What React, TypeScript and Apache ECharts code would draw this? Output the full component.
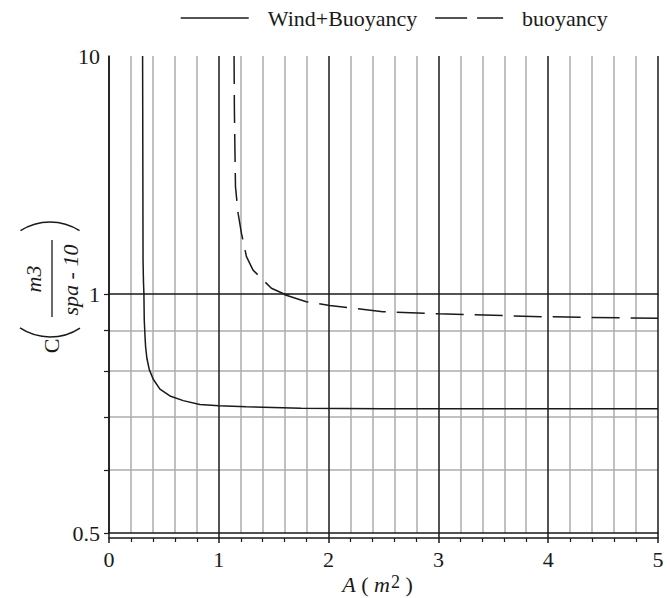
import React, { useEffect, useRef } from "react";
import * as echarts from "echarts";

// ---- data ----
const windA = [0.306, 0.308, 0.31, 0.314, 0.318, 0.321, 0.327, 0.333, 0.345, 0.367, 0.403, 0.464, 0.555, 0.676, 0.827, 1.0, 1.25, 1.75, 2.5, 3.5, 5];
const windC = [10, 4, 1.39, 1.12, 1.0, 0.928, 0.89, 0.859, 0.83, 0.803, 0.781, 0.759, 0.744, 0.734, 0.726, 0.723, 0.721, 0.718, 0.717, 0.717, 0.717];
const buoyA = [1.139, 1.142, 1.147, 1.152, 1.176, 1.206, 1.252, 1.312, 1.373, 1.479, 1.6, 1.797, 2.01, 2.494, 3, 4, 5];
const buoyC = [10, 6, 4, 2.82, 2.18, 1.8, 1.435, 1.26, 1.182, 1.057, 0.998, 0.978, 0.967, 0.95, 0.944, 0.936, 0.932];

const seriesNames = ["Wind+Buoyancy", "buoyancy"];
const xTickLabels = [0, 1, 2, 3, 4, 5];
const upperYLabels = [10];
const lowerYTicks = [0.5, 0.6, 0.7, 0.8, 0.9, 1];
const lowerYLabels = [0.5, 1];

const FONT = "'Liberation Serif', 'Times New Roman', Times, serif";
const BLACK = "#1a1a1a";
const GRAY = "#acacac";
const DASH = [28, 11];
const LEGEND_DASH = [32, 10];

export default function App() {
  const ref = useRef<HTMLDivElement>(null);
  useEffect(() => {
    if (!ref.current) return;
    const chart = echarts.init(ref.current, undefined, { renderer: "svg" });
    const wind = windA.map((a, i) => [a, windC[i]]);
    const buoy = buoyA.map((a, i) => [a, buoyC[i]]);

    const xBase = {
      type: "value",
      min: xTickLabels[0],
      max: xTickLabels[xTickLabels.length - 1],
      interval: 1,
      position: "bottom",
      axisLabel: { show: false },
      axisTick: { show: false },
      minorTick: { show: false, splitNumber: 5 },
      splitLine: { show: false },
      minorSplitLine: { show: false },
      axisLine: { show: false, onZero: false },
    };
    const gridLines = {
      splitLine: { show: true, lineStyle: { color: BLACK, width: 1.5 } },
      minorSplitLine: { show: true, lineStyle: { color: GRAY, width: 1.5 } },
    };
    const noSymbol = { color: "rgba(0,0,0,0)", borderWidth: 0 };

    const option: any = {
      animation: false,
      backgroundColor: "#fff",
      textStyle: { fontFamily: FONT },
      legend: {
        data: [
          { name: seriesNames[0], lineStyle: { color: BLACK, width: 1.5, type: "solid" } },
          { name: seriesNames[1], lineStyle: { color: BLACK, width: 1.5, type: LEGEND_DASH } },
        ],
        left: 175,
        top: 2,
        itemWidth: 68,
        itemHeight: 14,
        itemGap: 17,
        itemStyle: { opacity: 0 },
        textStyle: { fontFamily: FONT, fontSize: 22, color: BLACK, padding: [8, 0, 0, 14] },
      },
      grid: [
        { left: 109, right: 12, top: 56, height: 238 },
        { left: 109, right: 12, top: 294, height: 239 },
      ],
      xAxis: [
        { ...xBase, gridIndex: 0, ...gridLines, axisLine: { show: true, onZero: false, lineStyle: { color: BLACK, width: 1.5 } } },
        { ...xBase, gridIndex: 1, ...gridLines, axisLine: { show: true, onZero: false, lineStyle: { color: BLACK, width: 1.5 } } },
        {
          ...xBase,
          gridIndex: 1,
          offset: 5,
          axisLine: { show: true, onZero: false, lineStyle: { color: BLACK, width: 1.5 } },
          axisTick: { show: true, length: 5, lineStyle: { color: BLACK, width: 1.5 } },
          minorTick: { show: true, splitNumber: 5, length: 4, lineStyle: { color: BLACK, width: 1.2 } },
          axisLabel: { show: true, fontFamily: FONT, fontSize: 22, color: BLACK, margin: 10 },
          name: "{i|A} ( {i|m}{s|2} )",
          nameLocation: "middle",
          nameGap: 35,
          nameTextStyle: {
            fontFamily: FONT,
            fontSize: 22,
            color: BLACK,
            padding: [0, 12, 0, 0],
            rich: {
              i: { fontFamily: FONT, fontSize: 22, fontStyle: "italic", color: BLACK },
              s: { fontFamily: FONT, fontSize: 18, color: BLACK, verticalAlign: "top", padding: [0, 0, 4, 1] },
            },
          },
        },
        {
          ...xBase,
          gridIndex: 1,
          offset: 5,
          axisTick: { show: true, inside: true, length: 5, lineStyle: { color: BLACK, width: 1.5 } },
        },
      ],
      yAxis: [
        {
          gridIndex: 0,
          type: "log",
          min: 1,
          max: 10,
          axisLine: { show: true, lineStyle: { color: BLACK, width: 1.5 } },
          axisTick: { show: false },
          axisLabel: { show: true, customValues: upperYLabels, fontFamily: FONT, fontSize: 22, color: BLACK, margin: 9 },
          splitLine: { show: false },
        },
        {
          gridIndex: 1,
          type: "log",
          min: 0.5,
          max: 1,
          axisLine: { show: true, lineStyle: { color: BLACK, width: 1.5 } },
          axisTick: { show: true, customValues: lowerYTicks, length: 5, lineStyle: { color: BLACK, width: 1.2 } },
          axisLabel: {
            show: true,
            customValues: lowerYLabels,
            fontFamily: FONT,
            fontSize: 22,
            color: BLACK,
            margin: 9,
            formatter: (v: number) => String(+Number(v).toFixed(2)),
          },
          splitLine: { show: true, showMinLine: false, showMaxLine: false, lineStyle: { color: GRAY, width: 1.5 } },
        },
      ],
      series: [
        { name: seriesNames[0], type: "line", xAxisIndex: 0, yAxisIndex: 0, data: wind, symbol: "none", clip: true, silent: true, itemStyle: noSymbol, lineStyle: { color: BLACK, width: 1.5 } },
        { name: seriesNames[0], type: "line", xAxisIndex: 2, yAxisIndex: 1, data: wind, symbol: "none", clip: true, silent: true, itemStyle: noSymbol, lineStyle: { color: BLACK, width: 1.5 } },
        { name: seriesNames[1], type: "line", xAxisIndex: 0, yAxisIndex: 0, data: buoy, symbol: "none", clip: true, silent: true, itemStyle: noSymbol, lineStyle: { color: BLACK, width: 1.5, type: DASH } },
        { name: seriesNames[1], type: "line", xAxisIndex: 2, yAxisIndex: 1, data: buoy, symbol: "none", clip: true, silent: true, itemStyle: noSymbol, lineStyle: { color: BLACK, width: 1.5, type: DASH, dashOffset: 20 } },
      ],
      graphic: [
        { type: "text", x: 51, y: 346, rotation: Math.PI / 2, style: { text: "C", fontFamily: FONT, fontSize: 22, fill: BLACK, align: "center", verticalAlign: "middle" } },
        { type: "arc", shape: { cx: 50, cy: 282.5, r: 54.5, startAngle: 0.988, endAngle: 2.154, clockwise: true }, style: { stroke: BLACK, lineWidth: 1.5, fill: "none" } },
        { type: "arc", shape: { cx: 50, cy: 276.5, r: 54.5, startAngle: 4.14, endAngle: 5.285, clockwise: true }, style: { stroke: BLACK, lineWidth: 1.5, fill: "none" } },
        { type: "line", shape: { x1: 52, y1: 240, x2: 52, y2: 317 }, style: { stroke: BLACK, lineWidth: 1.3 } },
        { type: "text", x: 33, y: 279, rotation: Math.PI / 2, style: { text: "m3", fontFamily: FONT, fontStyle: "italic", fontSize: 22, fill: BLACK, align: "center", verticalAlign: "middle" } },
        { type: "text", x: 70, y: 280, rotation: Math.PI / 2, style: { text: "spa - 10", fontFamily: FONT, fontStyle: "italic", fontSize: 22, fill: BLACK, align: "center", verticalAlign: "middle" } },
      ],
    };
    chart.setOption(option);
    return () => chart.dispose();
  }, []);
  return <div ref={ref} style={{ position: "absolute", left: 0, top: 0, width: 670, height: 598 }} />;
}
